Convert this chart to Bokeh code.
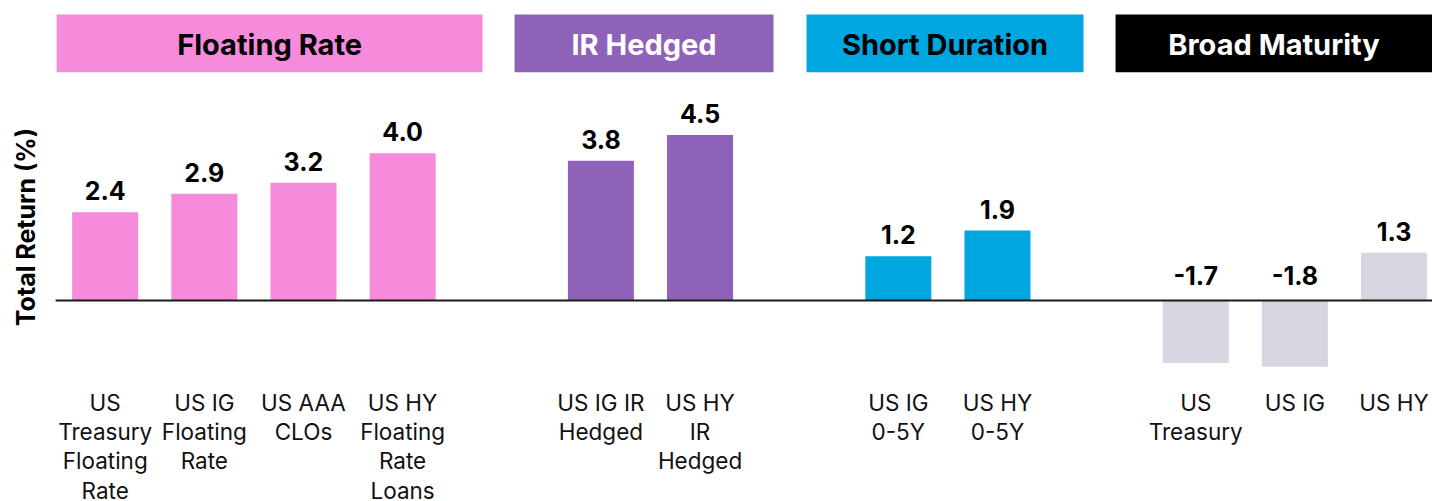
from bokeh.plotting import figure
from bokeh.models import Range1d, ColumnDataSource
from bokeh.core.properties import value
from bokeh.embed import file_html
from bokeh.resources import INLINE

# ---- data ----
groups = ["Floating Rate", "IR Hedged", "Short Duration", "Broad Maturity"]
group_sizes = [4, 2, 2, 3]
categories = [
    "US\nTreasury\nFloating\nRate",
    "US IG\nFloating\nRate",
    "US AAA\nCLOs",
    "US HY\nFloating\nRate\nLoans",
    "US IG IR\nHedged",
    "US HY\nIR\nHedged",
    "US IG\n0-5Y",
    "US HY\n0-5Y",
    "US\nTreasury",
    "US IG",
    "US HY",
]
returns = [2.4, 2.9, 3.2, 4.0, 3.8, 4.5, 1.2, 1.9, -1.7, -1.8, 1.3]
value_labels = ["2.4", "2.9", "3.2", "4.0", "3.8", "4.5", "1.2", "1.9", "-1.7", "-1.8", "1.3"]

# ---- style / layout ----
group_colors = ["#F58BDA", "#8F62B9", "#00A6DF", "#D6D5E0"]
header_colors = ["#F58BDA", "#8F62B9", "#00A6DF", "#000000"]
header_text_colors = ["#000000", "#FFFFFF", "#000000", "#FFFFFF"]
header_spans = [(-0.49, 3.806), (4.129, 6.741), (7.074, 9.868), (10.191, 13.5)]
FONT = "Inter"
PX = 36.8  # pixels per y unit

# positions: groups separated by one empty slot
xs, colors = [], []
slot = 0
for gi, n in enumerate(group_sizes):
    for _ in range(n):
        xs.append(slot)
        colors.append(group_colors[gi])
        slot += 1
    slot += 1

p = figure(width=1432, height=501, output_backend="svg", toolbar_location=None,
           x_range=Range1d(-1.056, 13.388), y_range=Range1d(-5.462, 8.152),
           min_border=0, outline_line_color=None)
p.xaxis.visible = False
p.yaxis.visible = False
p.xgrid.visible = False
p.ygrid.visible = False
p.background_fill_color = "white"
p.border_fill_color = "white"

src = ColumnDataSource(dict(
    x=xs, top=returns, color=colors, cat=categories, lab=value_labels,
    ly=[v + 21.5 / PX if v > 0 else 24.5 / PX for v in returns],
))

p.vbar(x="x", top="top", bottom=0, width=0.666, color="color", source=src, line_color=None)
p.segment(x0=-0.5, y0=0, x1=13.5, y1=0, line_color="#1a1a1a", line_width=2)

# value labels
p.text(x="x", y="ly", text="lab", source=src, text_align="center",
       text_baseline="middle", text_font=value(FONT), text_font_style="bold",
       text_font_size="25px", text_color="#000000")

# category labels
p.text(x="x", y=-2.41, text="cat", source=src, text_align="center",
       text_baseline="top", text_font=value(FONT), text_font_size="22.5px",
       text_color="#111111", text_line_height=1.08)

# header boxes
hsrc = ColumnDataSource(dict(
    left=[s[0] for s in header_spans], right=[s[1] for s in header_spans],
    cx=[(s[0] + s[1]) / 2 if i < 3 else (s[0] + 13.388) / 2 for i, s in enumerate(header_spans)],
    name=groups, fill=header_colors, tc=header_text_colors,
))
p.quad(left="left", right="right", top=7.772, bottom=6.204, fill_color="fill",
       line_color=None, source=hsrc)
p.text(x="cx", y=6.957, text="name", source=hsrc, text_align="center",
       text_baseline="middle", text_font=value(FONT), text_font_style="bold",
       text_font_size="29px", text_color="tc")

# y axis title
p.text(x=[-0.794], y=[1.997], text=["Total Return (%)"], angle=1.5708,
       text_align="center", text_baseline="middle", text_font=value(FONT),
       text_font_style="bold", text_font_size="25px", text_color="#000000")

open("out.html", "w").write(file_html(p, INLINE))
